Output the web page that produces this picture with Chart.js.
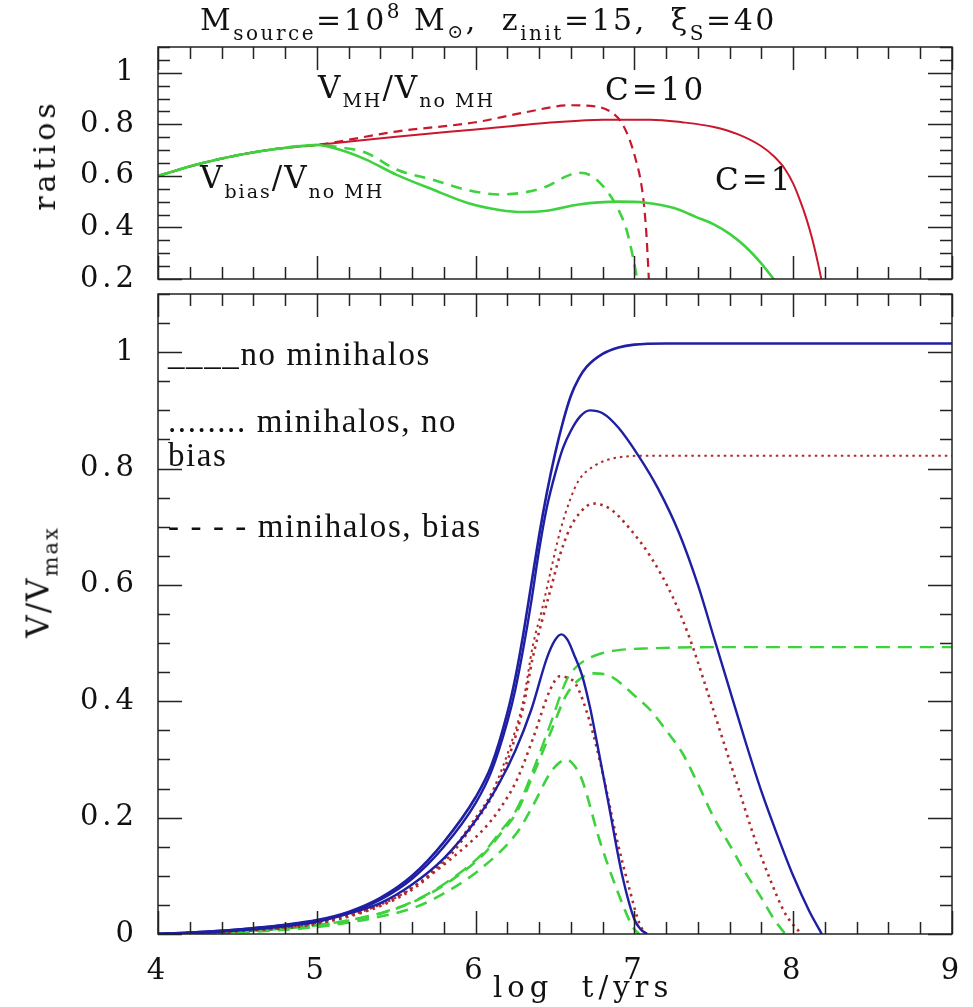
<!DOCTYPE html>
<html>
<head>
<meta charset="utf-8">
<script src="https://cdn.jsdelivr.net/npm/chart.js@4.4.1/dist/chart.umd.min.js"></script>
<style>
  html, body { margin: 0; padding: 0; background: #fff; }
  #wrap { position: relative; width: 973px; height: 1007px; overflow: hidden; font-family: "DejaVu Serif", serif; color: #111; }
  canvas { position: absolute; left: 0; }
  .t { position: absolute; white-space: pre; line-height: 1; }
  .s { position: relative; }
  .rot { transform: translate(-50%, -50%) rotate(-90deg); }
  .leg { font-family: "Liberation Serif", serif; font-size: 33px; letter-spacing: 1.6px; }
</style>
</head>
<body>
<div id="wrap">
  <canvas id="ratioChart" width="973" height="290" style="top:0"></canvas>
  <canvas id="volChart" width="973" height="727" style="top:280px"></canvas>

  <div class="t" style="left:200px;top:5px;font-size:30px;letter-spacing:2.5px">M<span class="s" style="font-size:20px;top:10px">source</span>=10<span class="s" style="font-size:20px;top:-12px">8</span> M<span class="s" style="font-size:19px;top:8px">⊙</span>,  z<span class="s" style="font-size:20px;top:10px">init</span>=15,  ξ<span class="s" style="font-size:20px;top:10px">S</span>=40</div>

  <div class="t rot" style="left:45px;top:155px;font-size:30px;letter-spacing:4px">ratios</div>
  <div class="t rot" style="left:38px;top:582px;font-size:31px;letter-spacing:2px">V/V<span class="s" style="font-size:21px;top:9px">max</span></div>
  <div class="t" style="left:493px;top:973px;font-size:29px;letter-spacing:5px">log  t/yrs</div>

  <div class="t" style="left:318px;top:72px;font-size:31px;letter-spacing:2px">V<span class="s" style="font-size:19px;top:9px">MH</span>/V<span class="s" style="font-size:19px;top:9px">no MH</span></div>
  <div class="t" style="left:605px;top:74px;font-size:31px;letter-spacing:3px">C=10</div>
  <div class="t" style="left:715px;top:164px;font-size:31px;letter-spacing:3px">C=1</div>
  <div class="t" style="left:200px;top:162px;font-size:31px;letter-spacing:2px">V<span class="s" style="font-size:19px;top:10px">bias</span>/V<span class="s" style="font-size:19px;top:10px">no MH</span></div>

  <div class="t leg" style="left:168px;top:338px">____no minihalos</div>
  <div class="t leg" style="left:168px;top:405px">........ minihalos, no</div>
  <div class="t leg" style="left:168px;top:439px">bias</div>
  <div class="t leg" style="left:168px;top:510px">- - - - minihalos, bias</div>
</div>

<script>
// top panel: ratios (red = V_MH/V_noMH, green = V_bias/V_noMH), solid C=1, dashed C=10
const ratioMhC1X = [4, 4.25, 4.5, 4.75, 5, 5.5, 6, 6.5, 6.8, 7.1, 7.3, 7.5, 7.65, 7.8, 7.88, 7.95, 8.0, 8.04, 8.08, 8.12, 8.16, 8.19];
const ratioMhC1Y = [0.60, 0.645, 0.68, 0.705, 0.72, 0.752, 0.78, 0.808, 0.818, 0.818, 0.808, 0.79, 0.762, 0.715, 0.675, 0.625, 0.57, 0.51, 0.44, 0.355, 0.25, 0.16];
const ratioMhC10X = [4, 4.25, 4.5, 4.75, 5, 5.5, 6, 6.3, 6.6, 6.75, 6.86, 6.92, 6.97, 7.01, 7.04, 7.06, 7.075, 7.085, 7.095];
const ratioMhC10Y = [0.60, 0.645, 0.68, 0.705, 0.72, 0.772, 0.808, 0.845, 0.874, 0.87, 0.845, 0.806, 0.74, 0.66, 0.58, 0.49, 0.38, 0.27, 0.15];
const ratioBiasC1X = [4, 4.25, 4.5, 4.75, 5, 5.15, 5.31, 5.5, 5.73, 5.95, 6.15, 6.3, 6.45, 6.65, 6.9, 7.07, 7.25, 7.39, 7.5, 7.6, 7.7, 7.8, 7.87, 7.95];
const ratioBiasC1Y = [0.60, 0.645, 0.68, 0.705, 0.72, 0.70, 0.663, 0.605, 0.547, 0.495, 0.468, 0.46, 0.465, 0.489, 0.50, 0.496, 0.475, 0.44, 0.412, 0.375, 0.325, 0.26, 0.205, 0.14];
const ratioBiasC10X = [4, 4.25, 4.5, 4.75, 5, 5.15, 5.31, 5.5, 5.73, 5.95, 6.15, 6.3, 6.45, 6.57, 6.65, 6.73, 6.82, 6.89, 6.95, 6.99, 7.01, 7.04];
const ratioBiasC10Y = [0.60, 0.645, 0.68, 0.705, 0.72, 0.71, 0.69, 0.625, 0.585, 0.545, 0.528, 0.535, 0.56, 0.598, 0.612, 0.60, 0.547, 0.48, 0.392, 0.288, 0.225, 0.12];

// bottom panel: V/Vmax. blue = no minihalos, red = minihalos no bias, green = minihalos with bias
const blueFlatX = [4, 4.3, 4.6, 5, 5.2, 5.4, 5.6, 5.8, 6, 6.1, 6.2, 6.25, 6.3, 6.35, 6.4, 6.45, 6.5, 6.55, 6.6, 6.65, 6.7, 6.8, 6.9, 7, 7.2, 8, 9];
const blueFlatY = [0, 0.004, 0.01, 0.024, 0.038, 0.062, 0.1, 0.158, 0.235, 0.29, 0.38, 0.44, 0.515, 0.6, 0.685, 0.76, 0.825, 0.88, 0.925, 0.955, 0.975, 0.997, 1.008, 1.013, 1.015, 1.015, 1.015];
const blueC1X = [4, 4.3, 4.6, 5, 5.2, 5.4, 5.6, 5.8, 6, 6.1, 6.2, 6.25, 6.3, 6.35, 6.4, 6.45, 6.5, 6.55, 6.6, 6.66, 6.72, 6.8, 6.9, 7.03, 7.15, 7.28, 7.4, 7.5, 7.6, 7.7, 7.8, 7.9, 8, 8.1, 8.18];
const blueC1Y = [0, 0.004, 0.01, 0.023, 0.036, 0.059, 0.095, 0.15, 0.225, 0.28, 0.365, 0.42, 0.49, 0.57, 0.66, 0.735, 0.79, 0.835, 0.865, 0.89, 0.90, 0.895, 0.87, 0.82, 0.765, 0.69, 0.60, 0.51, 0.42, 0.33, 0.245, 0.17, 0.1, 0.04, 0];
const blueC10X = [4, 4.5, 5, 5.2, 5.4, 5.6, 5.8, 6, 6.15, 6.25, 6.35, 6.45, 6.5, 6.54, 6.58, 6.62, 6.67, 6.72, 6.76, 6.84, 6.92, 7, 7.04, 7.08];
const blueC10Y = [0, 0.006, 0.021, 0.035, 0.053, 0.085, 0.13, 0.195, 0.26, 0.315, 0.385, 0.475, 0.505, 0.515, 0.505, 0.48, 0.445, 0.39, 0.335, 0.22, 0.105, 0.025, 0.008, 0];

const redFlatX = [4, 4.5, 5, 5.4, 5.63, 5.84, 5.96, 6.11, 6.21, 6.3, 6.36, 6.42, 6.47, 6.53, 6.6, 6.65, 6.75, 6.86, 7.07, 7.5, 9];
const redFlatY = [0, 0.005, 0.019, 0.05, 0.085, 0.14, 0.185, 0.248, 0.317, 0.40, 0.495, 0.56, 0.62, 0.69, 0.75, 0.78, 0.805, 0.817, 0.822, 0.822, 0.822];
const redC1X = [4, 4.5, 5, 5.4, 5.63, 5.84, 5.96, 6.11, 6.21, 6.3, 6.36, 6.42, 6.47, 6.53, 6.59, 6.66, 6.74, 6.85, 6.97, 7.11, 7.24, 7.35, 7.45, 7.55, 7.65, 7.75, 7.85, 7.95, 8.05];
const redC1Y = [0, 0.005, 0.018, 0.048, 0.082, 0.135, 0.178, 0.24, 0.305, 0.39, 0.475, 0.54, 0.59, 0.65, 0.695, 0.725, 0.74, 0.73, 0.697, 0.645, 0.58, 0.507, 0.425, 0.34, 0.255, 0.17, 0.097, 0.035, 0];
const redC10X = [4, 4.5, 5, 5.4, 5.63, 5.84, 6.05, 6.15, 6.26, 6.36, 6.47, 6.53, 6.58, 6.63, 6.72, 6.8, 6.89, 6.97, 7.03, 7.07];
const redC10Y = [0, 0.005, 0.018, 0.05, 0.085, 0.128, 0.18, 0.214, 0.265, 0.335, 0.42, 0.443, 0.44, 0.43, 0.364, 0.277, 0.162, 0.076, 0.019, 0];

const greenFlatX = [4, 4.5, 5, 5.4, 5.63, 5.84, 6.05, 6.15, 6.26, 6.36, 6.47, 6.57, 6.63, 6.7, 6.8, 6.9, 7.1, 7.5, 9];
const greenFlatY = [0, 0.004, 0.015, 0.036, 0.059, 0.093, 0.14, 0.174, 0.215, 0.28, 0.36, 0.435, 0.458, 0.472, 0.483, 0.488, 0.491, 0.493, 0.493];
const greenC1X = [4, 4.5, 5, 5.4, 5.63, 5.84, 6.05, 6.15, 6.26, 6.36, 6.47, 6.57, 6.65, 6.74, 6.85, 7, 7.1, 7.2, 7.3, 7.4, 7.5, 7.6, 7.7, 7.8, 7.88, 7.95];
const greenC1Y = [0, 0.004, 0.015, 0.035, 0.058, 0.091, 0.137, 0.17, 0.21, 0.272, 0.345, 0.41, 0.437, 0.448, 0.443, 0.41, 0.385, 0.35, 0.312, 0.258, 0.2, 0.153, 0.105, 0.062, 0.025, 0];
const greenC10X = [4, 4.5, 5, 5.4, 5.63, 5.84, 6.05, 6.26, 6.36, 6.47, 6.53, 6.57, 6.62, 6.67, 6.78, 6.89, 6.99, 7.03];
const greenC10Y = [0, 0.003, 0.012, 0.03, 0.047, 0.076, 0.116, 0.174, 0.22, 0.277, 0.295, 0.30, 0.29, 0.265, 0.162, 0.076, 0.012, 0];

const BLUE = '#1f1fa3';
const DARKRED = '#b02a2a';
const RED = '#c8182e';
const GREEN = '#3fd23f';

function pts(xs, ys) {
  return xs.map((x, i) => ({ x: x, y: ys[i] }));
}

function line(xs, ys, color, width, dash) {
  return {
    data: pts(xs, ys),
    borderColor: color,
    borderWidth: width,
    borderDash: dash || [],
    pointRadius: 0,
    fill: false,
    cubicInterpolationMode: 'monotone'
  };
}

const fmt = v => Number(v.toFixed(2)).toString();

// tick spacing for the frame (same for both panels)
const X_MAJOR = 1, X_MINOR = 0.2, Y_MAJOR = 0.2, Y_MINOR = 0.05;

// box frame + inward major/minor ticks on all four sides
const frameTicks = {
  id: 'frameTicks',
  beforeDraw(chart) {
    chart.ctx.letterSpacing = '4px';
  },
  afterDraw(chart) {
    const ctx = chart.ctx;
    const a = chart.chartArea;
    const x = chart.scales.x, y = chart.scales.y;
    const isMajor = (v, step) => Math.abs(v / step - Math.round(v / step)) < 1e-6;
    ctx.save();
    ctx.letterSpacing = '0px';
    ctx.setLineDash([]);
    ctx.strokeStyle = '#222';
    ctx.lineWidth = 1.5;
    ctx.strokeRect(a.left, a.top, a.right - a.left, a.bottom - a.top);
    let n = Math.round((x.max - x.min) / X_MINOR);
    for (let i = 0; i <= n; i++) {
      const v = x.min + i * X_MINOR;
      const px = Math.round(x.getPixelForValue(v)) + 0.5;
      const len = isMajor(v, X_MAJOR) ? 23 : 12;
      ctx.beginPath();
      ctx.moveTo(px, a.bottom); ctx.lineTo(px, a.bottom - len);
      ctx.moveTo(px, a.top); ctx.lineTo(px, a.top + len);
      ctx.stroke();
    }
    n = Math.round((y.max - y.min) / Y_MINOR);
    for (let i = 0; i <= n; i++) {
      const v = y.min + i * Y_MINOR;
      const py = Math.round(y.getPixelForValue(v)) + 0.5;
      const len = isMajor(v, Y_MAJOR) ? 24 : 12;
      ctx.beginPath();
      ctx.moveTo(a.left, py); ctx.lineTo(a.left + len, py);
      ctx.moveTo(a.right, py); ctx.lineTo(a.right - len, py);
      ctx.stroke();
    }
    ctx.restore();
  }
};

const tickFont = { family: 'DejaVu Serif', size: 29 };

// fixed axis sizes, and no extra room for labels that overhang the plot box
function fixSize(prop, size) {
  return s => {
    s[prop] = size;
    s.paddingTop = 0; s.paddingBottom = 0; s.paddingLeft = 0; s.paddingRight = 0;
  };
}

function baseOptions(yMin, yMax, xHeight, padTop, showX) {
  return {
    responsive: false,
    animation: false,
    events: [],
    layout: { padding: { left: 0, right: 21, top: padTop, bottom: 0 } },
    plugins: {
      legend: { display: false },
      tooltip: { enabled: false }
    },
    scales: {
      x: {
        type: 'linear', min: 4, max: 9,
        afterFit: fixSize('height', xHeight),
        grid: { display: false, drawTicks: false },
        border: { display: false },
        ticks: { display: showX, stepSize: 1, padding: 20, color: '#111', font: tickFont, callback: fmt }
      },
      y: {
        min: yMin, max: yMax,
        afterFit: fixSize('width', 158),
        grid: { display: false, drawTicks: false },
        border: { display: false },
        ticks: { stepSize: 0.2, includeBounds: false, padding: 20, color: '#111', font: tickFont, callback: fmt }
      }
    }
  };
}

new Chart(document.getElementById('ratioChart'), {
  type: 'line',
  data: {
    datasets: [
      line(ratioBiasC1X, ratioBiasC1Y, GREEN, 2.6),
      line(ratioBiasC10X, ratioBiasC10Y, GREEN, 2.6, [11, 8]),
      line(ratioMhC1X, ratioMhC1Y, RED, 2),
      line(ratioMhC10X, ratioMhC10Y, RED, 2.2, [9, 6])
    ]
  },
  options: baseOptions(0.2, 1.1, 11, 47, false),
  plugins: [frameTicks]
});

new Chart(document.getElementById('volChart'), {
  type: 'line',
  data: {
    datasets: [
      line(blueFlatX, blueFlatY, BLUE, 2.6),
      line(blueC1X, blueC1Y, BLUE, 2.4),
      line(blueC10X, blueC10Y, BLUE, 2.4),
      line(redFlatX, redFlatY, DARKRED, 2, [2.5, 4]),
      line(redC1X, redC1Y, DARKRED, 2.6, [2.5, 4.5]),
      line(redC10X, redC10Y, DARKRED, 2.6, [2.5, 4.5]),
      line(greenFlatX, greenFlatY, GREEN, 2.4, [14, 8]),
      line(greenC1X, greenC1Y, GREEN, 2.6, [12, 8]),
      line(greenC10X, greenC10Y, GREEN, 2.6, [12, 8])
    ]
  },
  options: baseOptions(0, 1.1, 73, 14, true),
  plugins: [frameTicks]
});
</script>
</body>
</html>
